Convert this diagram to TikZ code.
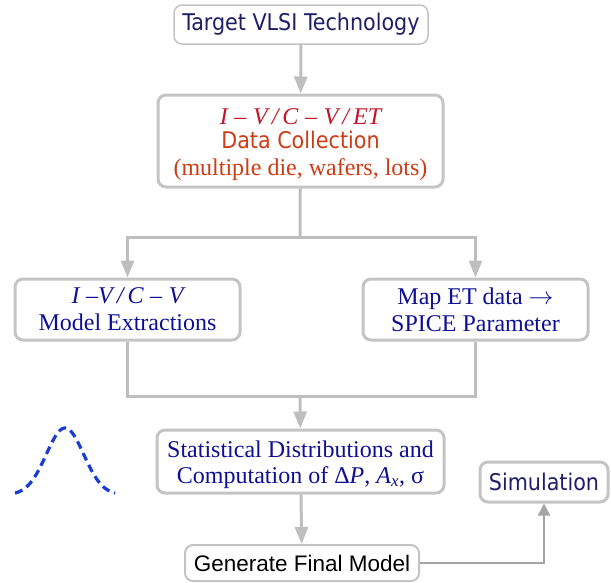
\documentclass[tikz,border=0pt]{standalone}
\usepackage{fontspec}
\setmainfont{Liberation Serif}
\newfontfamily\tahoma{DejaVu Sans Condensed}
\newfontfamily\arial{Liberation Sans}
\usepackage{xcolor}
\usetikzlibrary{arrows.meta,positioning}
\definecolor{boxgray}{RGB}{196,196,196}
\definecolor{linkgray}{RGB}{190,190,190}
\definecolor{simgray}{RGB}{165,165,165}
\definecolor{navy}{RGB}{15,15,150}
\definecolor{deepnavy}{RGB}{30,30,105}
\definecolor{crimson}{RGB}{195,20,40}
\definecolor{rust}{RGB}{205,60,20}
\definecolor{bellblue}{RGB}{25,60,210}
\begin{document}
\begin{tikzpicture}[x=1pt, y=-1pt,
    box/.style={draw=boxgray, line width=3pt, fill=white, rounded corners=8pt, align=center, inner sep=0pt},
    serif/.style={font=\fontsize{24}{27}\selectfont, text=navy},
    sans/.style={font=\tahoma\fontsize{23}{27}\selectfont, text=deepnavy},
    link/.style={draw=linkgray, line width=3pt},
    arrow/.style={link, -{Triangle[length=17pt,width=13pt]}},
    bell/.style={draw=bellblue, line width=3.2pt, dash pattern=on 8pt off 5pt}]
    \useasboundingbox (0,0) rectangle (611,582);
    \node[box, sans, line width=1.5pt, minimum width=254, minimum height=39] (target) at (301,24.5) {Target VLSI Technology};
    \node[box, serif, text=rust, minimum width=285, minimum height=92] (collect) at (300.5,141)
        {\rule{0pt}{24pt}{\color{crimson}\itshape I\;–\;V\,/\,C\;–\;V\,/\,ET}\\[-3pt]{\tahoma\fontsize{23}{27}\selectfont Data Collection}\\(multiple die, wafers, lots)};
    \node[box, serif, minimum width=225, minimum height=61] (extract) at (127.5,309.5) {{\itshape I\;–V\,/\,C\;–\;V}\\Model Extractions};
    \node[box, serif, minimum width=225, minimum height=61] (spice) at (475.5,309.5) {Map ET data $\rightarrow$\\SPICE Parameter};
    \node[box, serif, font=\fontsize{24}{25.5}\selectfont, minimum width=287, minimum height=63] (stats) at (300.5,461.5)
        {\rule{0pt}{23pt}Statistical Distributions and\\Computation of Δ\textit{P}, \textit{A}\textsubscript{\textit{x}}, σ};
    \node[box, line width=2pt, font=\arial\fontsize{22.5}{27}\selectfont, minimum width=234, minimum height=36] (final) at (302,563) {Generate Final Model};
    \node[box, sans, minimum width=128, minimum height=40] (sim) at (544,482) {Simulation};
    \coordinate (split) at (300,237);
    \coordinate (merge) at (300,396);
    \draw[arrow] (target) -- (collect);
    \draw[link] (collect) -- (split);
    \foreach \name in {extract,spice}{\draw[arrow] (split) -| (\name.north);}
    \draw[link] (extract.south) |- (merge) -| (spice.south);
    \draw[arrow] (merge) -- (stats);
    \draw[arrow] (stats) -- (final);
    \draw[draw=simgray, line width=2.5pt, -{Triangle[length=12pt,width=12pt]}] (final.east) -| (sim.south);
    \draw[bell] plot[domain=-50:50, samples=60, smooth] ({65+\x},{495-67*exp(-\x*\x/700)});
\end{tikzpicture}
\end{document}
